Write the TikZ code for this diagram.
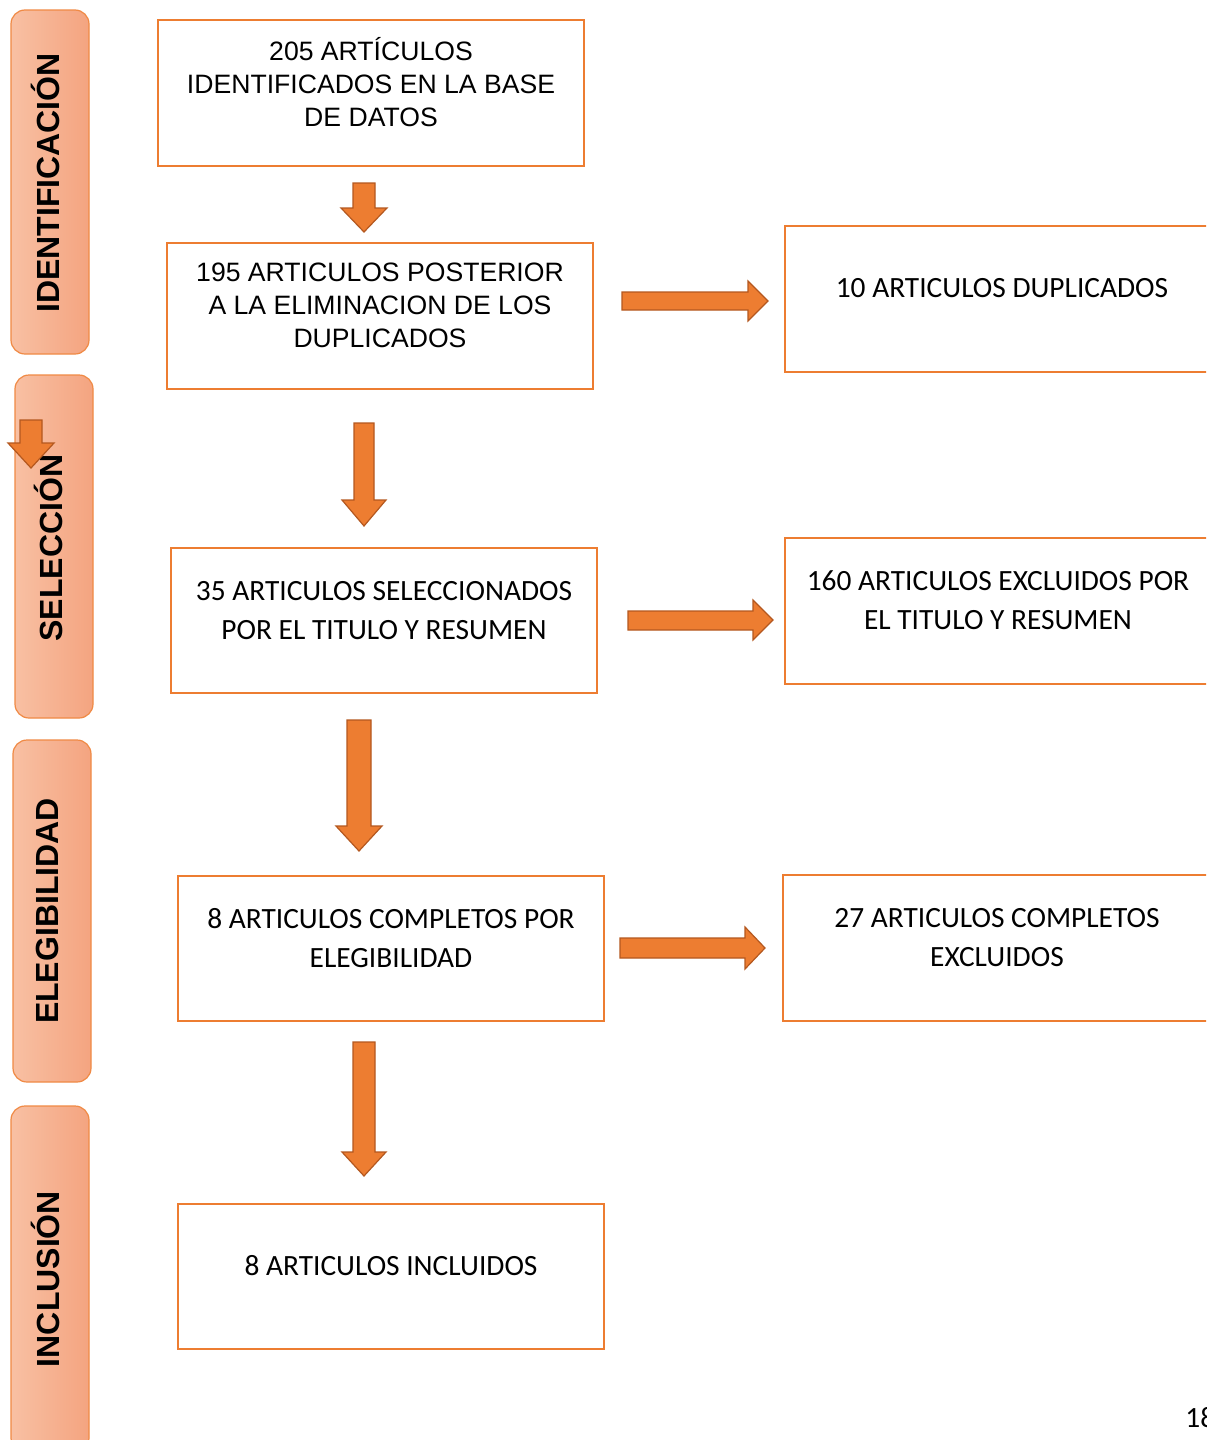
\documentclass[tikz,border=0pt]{standalone}
\usepackage{fontspec}
\setmainfont{Liberation Sans}
\newfontfamily\calib{Carlito}
\definecolor{org}{HTML}{ED7D31}
\definecolor{orgd}{HTML}{B4581F}
\definecolor{sidel}{HTML}{F8C0A3}
\definecolor{sider}{HTML}{F4A480}
\definecolor{sideb}{HTML}{F08A45}
\begin{document}
\begin{tikzpicture}[x=0.5pt,y=-0.5pt,
 box/.style={draw=org,line width=1pt,rectangle,inner sep=0,minimum width=213pt,minimum height=73pt},
 rbox/.style={draw=org,line width=1pt,rectangle,inner sep=0,minimum width=216pt,minimum height=73pt},
 side/.style={draw=sideb,line width=0.6pt,rounded corners=7pt,left color=sidel,right color=sider,rectangle,inner sep=0,minimum width=39pt},
 barrow/.style={fill=org,draw=orgd,line width=0.6pt,line join=miter},
 atxt/.style={font=\fontsize{13.3}{16.5}\selectfont,align=center,inner sep=0},
 ctxt/.style={font=\calib\fontsize{14.7}{19.5}\selectfont,align=center,inner sep=0},
 stxt/.style={font=\bfseries\fontsize{16}{18}\selectfont,rotate=90,inner sep=0}]
\clip (0,0) rectangle (1206,1440);
\fill[white] (0,0) rectangle (1206,1440);
% side bars
\node[side,minimum height=172pt] (s1) at (50,182) {};
\node[side,minimum height=171.5pt] (s2) at (54,546.5) {};
\node[side,minimum height=171pt] (s3) at (52,911) {};
\node[side,minimum height=173pt] (s4) at (50,1279) {};
\node[stxt] (t1) at (45,183) {IDENTIFICACIÓN};
\node[stxt] (t2) at (48,548) {SELECCIÓN};
\node[stxt] (t3) at (47,911) {ELEGIBILIDAD};
\node[stxt] (t4) at (45,1279) {INCLUSIÓN};
% boxes
\node[box] (b1) at (371,93) {};
\node[box] (b2) at (380,316) {};
\node[box,minimum height=72.5pt] (b3) at (384,620.5) {};
\node[box,minimum height=72.5pt] (b4) at (391,948.5) {};
\node[box,minimum height=72.5pt] (b5) at (391,1276.5) {};
\node[rbox] (r1) at (1000.5,299) {};
\node[rbox] (r2) at (1000.5,611) {};
\node[rbox,minimum width=217pt] (r3) at (999.5,948) {};
% texts
\node[atxt] (l1) at (371,82) {205 ARTÍCULOS\\IDENTIFICADOS EN LA BASE\\DE DATOS};
\node[atxt] (l2) at (380,305) {195 ARTICULOS POSTERIOR\\A LA ELIMINACION DE LOS\\DUPLICADOS};
\node[ctxt] (l3) at (384,610.5) {35 ARTICULOS SELECCIONADOS\\POR EL TITULO Y RESUMEN};
\node[ctxt] (l4) at (391,938.5) {8 ARTICULOS COMPLETOS POR\\ELEGIBILIDAD};
\node[ctxt] (l5) at (391,1266) {8 ARTICULOS INCLUIDOS};
\node[ctxt] (m1) at (1002,288) {10 ARTICULOS DUPLICADOS};
\node[ctxt] (m2) at (998,600.5) {160 ARTICULOS EXCLUIDOS POR\\EL TITULO Y RESUMEN};
\node[ctxt] (m3) at (997,937.5) {27 ARTICULOS COMPLETOS\\EXCLUIDOS};
\node[ctxt,anchor=west] (pg) at (1185,1418) {18};
% block arrows
\draw[barrow] (353,183) -- (375,183) -- (375,208) -- (387,208) -- (364,232) -- (341,208) -- (353,208) -- cycle;
\draw[barrow] (354,423) -- (374,423) -- (374,500) -- (386,500) -- (364,526) -- (342,500) -- (354,500) -- cycle;
\draw[barrow] (347,720) -- (371,720) -- (371,826) -- (382,826) -- (359,851) -- (336,826) -- (347,826) -- cycle;
\draw[barrow] (353,1042) -- (375,1042) -- (375,1152) -- (386,1152) -- (364,1176) -- (342,1152) -- (353,1152) -- cycle;
\draw[barrow] (20,420) -- (42,420) -- (42,443) -- (54,443) -- (31,468) -- (8,443) -- (20,443) -- cycle;
\draw[barrow] (622,292) -- (748,292) -- (748,281) -- (768,301) -- (748,321) -- (748,310) -- (622,310) -- cycle;
\draw[barrow] (628,611) -- (753,611) -- (753,600) -- (773,620) -- (753,640) -- (753,630) -- (628,630) -- cycle;
\draw[barrow] (620,938) -- (745,938) -- (745,927) -- (765,948) -- (745,969) -- (745,958) -- (620,958) -- cycle;
\end{tikzpicture}
\end{document}
